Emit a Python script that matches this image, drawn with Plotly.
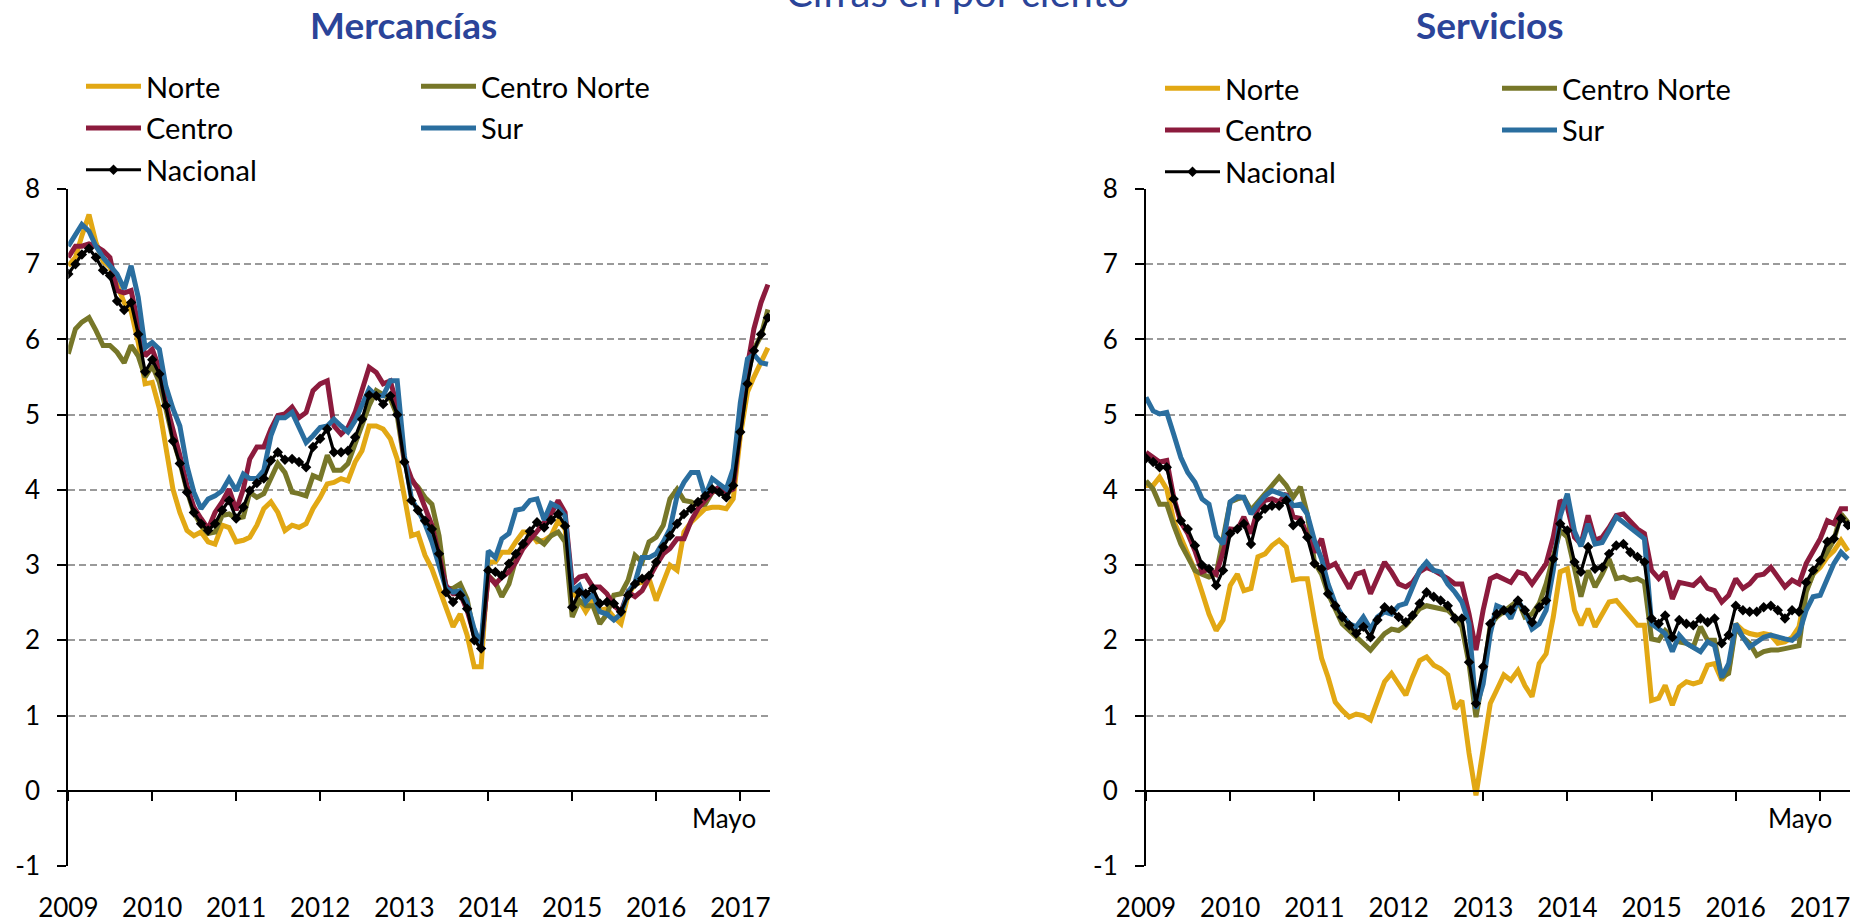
import pandas as pd
import plotly.graph_objects as go

# ---------------- data ----------------
months = pd.date_range("2009-01-01", periods=101, freq="MS")
year_ticks = pd.date_range("2009-01-01", "2017-01-01", freq="YS")
year_labels = [str(d.year) for d in year_ticks]
y_ticks = list(range(-1, 9))
y_labels = ["-1", "0", "1", "2", "3", "4", "5", "6", "7", "8"]

series_names = ["Norte", "Centro Norte", "Centro", "Sur", "Nacional"]

# Mercancías
norte_m = [6.98, 7.09, 7.38, 7.66, 7.29, 7.04, 6.96, 6.73, 6.49, 6.38,
           5.96, 5.41, 5.43, 5.08, 4.54, 4.01, 3.70, 3.46, 3.39, 3.44,
           3.31, 3.28, 3.53, 3.50, 3.31, 3.33, 3.37, 3.53, 3.75, 3.84,
           3.70, 3.46, 3.53, 3.50, 3.55, 3.75, 3.90, 4.08, 4.10, 4.15,
           4.12, 4.37, 4.52, 4.85, 4.85, 4.81, 4.68, 4.41, 3.92, 3.39,
           3.42, 3.13, 2.95, 2.69, 2.42, 2.18, 2.35, 2.07, 1.65, 1.65,
           3.04, 3.04, 3.17, 3.17, 3.31, 3.44, 3.44, 3.31, 3.33, 3.39,
           3.59, 3.48, 2.64, 2.53, 2.38, 2.53, 2.40, 2.42, 2.31, 2.22,
           2.60, 2.75, 2.77, 2.82, 2.53, 2.77, 3.00, 2.93, 3.44, 3.57,
           3.66, 3.75, 3.77, 3.77, 3.75, 3.88, 4.72, 5.30, 5.50, 5.69, 5.89]
cnorte_m = [5.81, 6.14, 6.23, 6.29, 6.12, 5.92, 5.92, 5.83, 5.69, 5.92,
            5.78, 5.50, 5.65, 5.43, 5.08, 4.68, 4.37, 3.99, 3.70, 3.53,
            3.42, 3.44, 3.66, 3.68, 3.62, 3.64, 3.97, 3.90, 3.95, 4.15,
            4.35, 4.23, 3.97, 3.95, 3.92, 4.19, 4.15, 4.46, 4.26, 4.26,
            4.35, 4.61, 4.85, 5.12, 5.32, 5.27, 5.21, 4.99, 4.37, 4.12,
            4.04, 3.90, 3.81, 3.39, 2.69, 2.69, 2.75, 2.55, 2.07, 1.93,
            2.86, 2.77, 2.58, 2.75, 3.08, 3.26, 3.39, 3.35, 3.28, 3.39,
            3.44, 3.31, 2.31, 2.53, 2.46, 2.46, 2.22, 2.35, 2.60, 2.62,
            2.80, 3.13, 3.04, 3.31, 3.37, 3.53, 3.88, 4.01, 3.86, 3.84,
            3.79, 3.81, 3.97, 3.99, 3.90, 4.10, 4.81, 5.52, 5.87, 6.05, 6.40]
centro_m = [7.09, 7.24, 7.24, 7.27, 7.24, 7.18, 7.09, 6.65, 6.62, 6.65,
            6.20, 5.78, 5.87, 5.61, 5.16, 4.83, 4.46, 4.06, 3.77, 3.62,
            3.48, 3.70, 3.84, 4.01, 3.73, 4.01, 4.41, 4.57, 4.57, 4.81,
            4.99, 5.01, 5.10, 4.96, 5.03, 5.32, 5.41, 5.45, 4.85, 4.74,
            4.83, 5.03, 5.30, 5.63, 5.56, 5.41, 5.45, 5.12, 4.41, 4.15,
            4.01, 3.77, 3.53, 3.13, 2.73, 2.62, 2.62, 2.40, 2.07, 1.93,
            2.86, 2.75, 2.84, 2.91, 3.04, 3.22, 3.33, 3.46, 3.55, 3.68,
            3.86, 3.70, 2.75, 2.84, 2.86, 2.71, 2.71, 2.62, 2.46, 2.38,
            2.64, 2.58, 2.66, 2.84, 3.00, 3.15, 3.22, 3.35, 3.35, 3.59,
            3.75, 3.86, 3.97, 4.04, 3.97, 4.01, 4.81, 5.65, 6.14, 6.49, 6.73]
sur_m = [7.24, 7.38, 7.53, 7.44, 7.24, 7.09, 6.98, 6.87, 6.67, 6.98,
         6.56, 5.89, 5.96, 5.87, 5.38, 5.08, 4.85, 4.32, 3.97, 3.75,
         3.88, 3.92, 3.99, 4.15, 3.99, 4.21, 4.15, 4.15, 4.26, 4.72,
         4.96, 4.96, 5.03, 4.85, 4.63, 4.72, 4.83, 4.85, 4.94, 4.85,
         4.77, 4.92, 5.12, 5.34, 5.25, 5.25, 5.45, 5.45, 4.46, 3.88,
         3.73, 3.55, 3.31, 3.00, 2.69, 2.64, 2.66, 2.49, 2.15, 1.93,
         3.19, 3.10, 3.35, 3.42, 3.73, 3.75, 3.86, 3.88, 3.60, 3.82,
         3.77, 3.65, 2.66, 2.73, 2.51, 2.62, 2.38, 2.35, 2.27, 2.35,
         2.64, 2.77, 3.10, 3.10, 3.15, 3.31, 3.48, 3.92, 4.10, 4.23,
         4.23, 3.92, 4.15, 4.08, 4.01, 4.28, 5.16, 5.74, 5.80, 5.69, 5.67]
nacional_m = [6.87, 7.00, 7.13, 7.21, 7.09, 6.92, 6.85, 6.51, 6.39, 6.49,
              6.07, 5.57, 5.73, 5.54, 5.12, 4.65, 4.35, 3.97, 3.70, 3.55,
              3.46, 3.55, 3.73, 3.86, 3.62, 3.77, 3.99, 4.09, 4.15, 4.39,
              4.50, 4.40, 4.41, 4.37, 4.30, 4.57, 4.68, 4.81, 4.50, 4.50,
              4.52, 4.70, 4.94, 5.26, 5.25, 5.14, 5.25, 5.00, 4.37, 3.86,
              3.73, 3.59, 3.48, 3.15, 2.64, 2.51, 2.60, 2.42, 2.00, 1.89,
              2.93, 2.91, 2.86, 3.02, 3.15, 3.28, 3.45, 3.57, 3.50, 3.60,
              3.68, 3.52, 2.44, 2.64, 2.62, 2.69, 2.49, 2.51, 2.49, 2.38,
              2.60, 2.75, 2.82, 2.86, 3.04, 3.24, 3.39, 3.55, 3.68, 3.75,
              3.84, 3.92, 4.01, 3.97, 3.90, 4.06, 4.77, 5.41, 5.85, 6.07, 6.29]

# Servicios
norte_s = [4.06, 4.06, 4.17, 4.01, 3.59, 3.37, 3.19, 2.93, 2.64, 2.35,
           2.13, 2.27, 2.73, 2.88, 2.66, 2.69, 3.11, 3.15, 3.26, 3.33,
           3.24, 2.80, 2.82, 2.82, 2.27, 1.76, 1.51, 1.18, 1.07, 0.98,
           1.02, 1.00, 0.94, 1.20, 1.45, 1.56, 1.40, 1.27, 1.51, 1.73,
           1.78, 1.67, 1.62, 1.54, 1.09, 1.20, 0.50, -0.06, 0.55, 1.16,
           1.34, 1.54, 1.47, 1.60, 1.40, 1.25, 1.69, 1.82, 2.31, 2.91,
           2.95, 2.40, 2.20, 2.42, 2.18, 2.35, 2.51, 2.53, 2.42, 2.31,
           2.20, 2.20, 1.20, 1.23, 1.40, 1.14, 1.38, 1.45, 1.42, 1.45,
           1.67, 1.69, 1.47, 1.60, 2.22, 2.13, 2.09, 2.07, 2.09, 2.07,
           1.96, 1.98, 2.04, 2.18, 2.66, 2.88, 2.97, 3.11, 3.19, 3.33, 3.19]
cnorte_s = [4.12, 4.01, 3.81, 3.81, 3.53, 3.28, 3.11, 2.93, 2.88, 2.84,
            2.88, 3.33, 3.84, 3.88, 3.90, 3.73, 3.84, 3.95, 4.06, 4.17,
            4.06, 3.90, 4.04, 3.68, 3.04, 2.88, 2.62, 2.40, 2.22, 2.13,
            2.04, 1.96, 1.87, 1.98, 2.09, 2.15, 2.13, 2.20, 2.31, 2.42,
            2.46, 2.44, 2.42, 2.40, 2.31, 2.18, 1.69, 0.98, 1.51, 2.20,
            2.31, 2.38, 2.46, 2.53, 2.31, 2.35, 2.49, 2.75, 3.11, 3.46,
            3.37, 2.93, 2.58, 2.93, 2.71, 2.88, 3.08, 2.82, 2.84, 2.80,
            2.82, 2.77, 2.02, 2.00, 2.13, 2.04, 1.98, 1.96, 1.91, 2.18,
            2.00, 2.00, 1.51, 1.56, 2.18, 2.04, 1.96, 1.80, 1.85, 1.87,
            1.87, 1.89, 1.91, 1.93, 2.64, 2.88, 3.02, 3.17, 3.33, 3.68, 3.57]
centro_s = [4.50, 4.43, 4.37, 4.39, 3.90, 3.57, 3.42, 3.19, 2.91, 2.95,
            2.88, 3.17, 3.48, 3.47, 3.64, 3.42, 3.75, 3.86, 3.88, 3.84,
            3.95, 3.64, 3.62, 3.39, 3.17, 3.35, 2.97, 3.02, 2.84, 2.69,
            2.88, 2.91, 2.62, 2.84, 3.04, 2.91, 2.75, 2.71, 2.77, 2.91,
            2.97, 2.93, 2.88, 2.82, 2.75, 2.75, 2.35, 1.87, 2.40, 2.82,
            2.86, 2.82, 2.77, 2.91, 2.88, 2.75, 2.88, 3.02, 3.37, 3.86,
            3.77, 3.37, 3.28, 3.66, 3.33, 3.37, 3.50, 3.66, 3.68, 3.57,
            3.48, 3.42, 2.93, 2.82, 2.91, 2.55, 2.77, 2.75, 2.73, 2.82,
            2.69, 2.66, 2.51, 2.60, 2.82, 2.69, 2.75, 2.86, 2.88, 2.97,
            2.84, 2.71, 2.80, 2.75, 3.02, 3.17, 3.35, 3.59, 3.55, 3.75, 3.75]
sur_s = [5.23, 5.05, 5.01, 5.03, 4.74, 4.43, 4.23, 4.10, 3.88, 3.81,
         3.39, 3.28, 3.84, 3.91, 3.90, 3.68, 3.81, 3.92, 3.99, 3.96,
         3.92, 3.79, 3.81, 3.68, 3.33, 3.08, 2.75, 2.49, 2.33, 2.22,
         2.18, 2.31, 2.15, 2.31, 2.38, 2.35, 2.46, 2.49, 2.71, 2.93,
         3.04, 2.93, 2.91, 2.75, 2.64, 2.51, 2.22, 1.09, 1.42, 2.09,
         2.46, 2.42, 2.29, 2.53, 2.38, 2.15, 2.22, 2.40, 2.93, 3.65,
         3.95, 3.45, 3.25, 3.55, 3.28, 3.30, 3.46, 3.64, 3.57, 3.50,
         3.44, 3.35, 2.22, 2.15, 2.09, 1.85, 2.07, 1.96, 1.91, 1.85,
         1.98, 1.93, 1.51, 1.69, 2.22, 2.04, 1.91, 1.98, 2.04, 2.07,
         2.04, 2.02, 2.00, 2.09, 2.40, 2.58, 2.60, 2.84, 3.02, 3.17, 3.08]
nacional_s = [4.42, 4.37, 4.30, 4.30, 3.88, 3.59, 3.48, 3.26, 3.00, 2.95,
              2.73, 2.93, 3.42, 3.48, 3.55, 3.28, 3.64, 3.75, 3.79, 3.79,
              3.86, 3.53, 3.57, 3.37, 3.02, 2.95, 2.62, 2.46, 2.31, 2.20,
              2.09, 2.18, 2.04, 2.27, 2.44, 2.40, 2.31, 2.24, 2.33, 2.49,
              2.64, 2.58, 2.53, 2.46, 2.29, 2.29, 1.71, 1.16, 1.65, 2.22,
              2.35, 2.40, 2.40, 2.53, 2.40, 2.24, 2.44, 2.53, 3.08, 3.55,
              3.46, 3.04, 2.91, 3.24, 2.95, 2.97, 3.15, 3.26, 3.28, 3.17,
              3.11, 3.04, 2.29, 2.22, 2.33, 2.04, 2.27, 2.22, 2.20, 2.29,
              2.24, 2.29, 1.96, 2.07, 2.46, 2.40, 2.38, 2.38, 2.44, 2.46,
              2.40, 2.29, 2.40, 2.38, 2.77, 2.93, 3.06, 3.31, 3.35, 3.62, 3.53]

# ---------------- styling ----------------
W, H = 1852, 922
FONT = "Lato, Calibri, 'Noto Sans', sans-serif"
colors = {"Norte": "#E2A814", "Centro Norte": "#777729", "Centro": "#8C1B3D",
          "Sur": "#2A6E9F", "Nacional": "#000000"}
TITLE_BLUE = "#2B4499"

def px_x(p):
    return p / W

def px_y(p):
    return 1 - p / H

y_bottom = px_y(866)
y_top = px_y(189)
y_zero = y_bottom + (y_top - y_bottom) / 9.0

fig = go.Figure()

panels = [
    ("x", "y", [norte_m, cnorte_m, centro_m, sur_m, nacional_m], ("legend", "legend2"), "L"),
    ("x2", "y2", [norte_s, cnorte_s, centro_s, sur_s, nacional_s], ("legend3", "legend4"), "R"),
]
for xa, ya, vals, legs, tag in panels:
    for name, v in zip(series_names, vals):
        leg = legs[1] if name in ("Centro Norte", "Sur") else legs[0]
        if name == "Nacional":
            fig.add_trace(go.Scatter(
                x=months, y=v, name=name, xaxis=xa, yaxis=ya, legend=leg,
                legendgroup=tag + name, mode="lines+markers",
                line=dict(color="#000000", width=3.2),
                marker=dict(symbol="diamond", size=8, color="#000000"),
                hoverinfo="skip"))
        else:
            fig.add_trace(go.Scatter(
                x=months, y=v, name=name, xaxis=xa, yaxis=ya, legend=leg,
                legendgroup=tag + name, mode="lines",
                line=dict(color=colors[name], width=5),
                hoverinfo="skip"))

xrange = [months[0], pd.Timestamp("2017-05-10")]
common_x = dict(range=xrange, type="date", anchor="free", position=y_zero,
                showline=True, linecolor="black", linewidth=2.5,
                ticks="outside", ticklen=9, tickwidth=2, tickcolor="black",
                tickvals=year_ticks, ticktext=year_labels, tickangle=0,
                tickfont=dict(family=FONT, size=26, color="black"),
                ticklabelstandoff=85, showgrid=False, zeroline=False,
                fixedrange=True)
common_y = dict(range=[-1, 8], tickvals=y_ticks, ticktext=y_labels,
                showline=True, linecolor="black", linewidth=2,
                ticks="outside", ticklen=9, tickwidth=2, tickcolor="black",
                tickfont=dict(family=FONT, size=26, color="black"),
                ticklabelstandoff=12,
                showgrid=True, gridcolor="#9A9A9A", gridwidth=2, griddash="7px,4px",
                zeroline=False, domain=[y_bottom, y_top], fixedrange=True)

fig.update_layout(
    width=W, height=H,
    margin=dict(l=0, r=0, t=0, b=0, pad=0, autoexpand=False),
    paper_bgcolor="white", plot_bgcolor="white",
    font=dict(family=FONT, size=26, color="black"),
    xaxis=dict(domain=[px_x(68.3), px_x(770)], **common_x),
    yaxis=dict(anchor="x", **common_y),
    xaxis2=dict(domain=[px_x(1146), px_x(1850)], **common_x),
    yaxis2=dict(anchor="x2", **common_y),
    hovermode=False,
)

leg_common = dict(orientation="v", xref="container", yref="container",
                  xanchor="left", yanchor="top", bgcolor="rgba(0,0,0,0)",
                  borderwidth=0, itemwidth=55, tracegroupgap=1,
                  font=dict(family=FONT, size=29, color="black"),
                  itemclick=False, itemdoubleclick=False)
fig.update_layout(
    legend=dict(x=px_x(81), y=1 - 61 / H, **leg_common),
    legend2=dict(x=px_x(416), y=1 - 61 / H, **leg_common),
    legend3=dict(x=px_x(1160), y=1 - 63 / H, **leg_common),
    legend4=dict(x=px_x(1497), y=1 - 63 / H, **leg_common),
)

annotations = [
    dict(text="<b>Mercancías</b>", x=px_x(403), y=px_y(25), xref="paper", yref="paper",
         xanchor="center", yanchor="middle", showarrow=False,
         font=dict(family=FONT, size=37, color=TITLE_BLUE)),
    dict(text="<b>Servicios</b>", x=px_x(1489), y=px_y(25), xref="paper", yref="paper",
         xanchor="center", yanchor="middle", showarrow=False,
         font=dict(family=FONT, size=37, color=TITLE_BLUE)),
    dict(text="Cifras en por ciento", x=px_x(958), y=px_y(-8), xref="paper", yref="paper",
         xanchor="center", yanchor="middle", showarrow=False,
         font=dict(family=FONT, size=40, color=TITLE_BLUE)),
    dict(text="Mayo", x=months[-1], y=-0.36, xref="x", yref="y", xanchor="right",
         yanchor="middle", xshift=-10, showarrow=False,
         font=dict(family=FONT, size=26, color="black")),
    dict(text="Mayo", x=months[-1], y=-0.36, xref="x2", yref="y2", xanchor="right",
         yanchor="middle", xshift=-14, showarrow=False,
         font=dict(family=FONT, size=26, color="black")),
]
fig.update_layout(annotations=annotations)

fig.write_html("out.html", config={"staticPlot": True},
               post_script="document.body.style.margin='0';document.body.style.overflow='hidden';")
